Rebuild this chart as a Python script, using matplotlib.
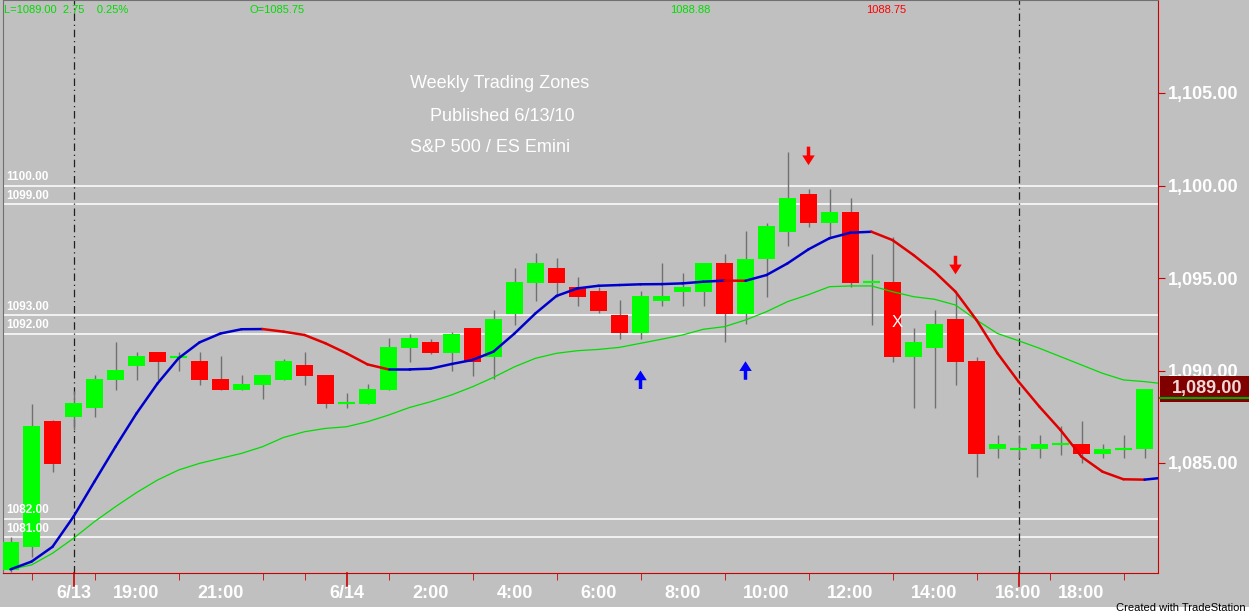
import matplotlib
matplotlib.use("Agg")
import matplotlib.pyplot as plt
import numpy as np

opens  = [1079.2,1080.47,1087.27,1087.5,1087.99,1089.49,1090.26,1091.0,1090.75,1090.51,1089.54,1088.95,1089.22,1089.49,1090.3,1089.76,1088.23,1088.19,1088.95,1091.23,
          1091.56,1090.96,1092.28,1090.75,1093.05,1094.75,1095.54,1094.51,1094.3,1093.0,1092.04,1093.77,1094.26,1094.26,1095.79,1093.05,1096.01,1097.5,1099.54,1097.99,
          1098.59,1094.77,1094.77,1090.75,1091.23,1092.78,1090.51,1085.74,1085.74,1085.74,1086.03,1086.03,1085.47,1085.74,1085.74]
closes = [1080.73,1087.0,1084.96,1088.23,1089.54,1090.03,1090.78,1090.48,1090.75,1089.49,1088.95,1089.27,1089.76,1090.51,1089.7,1088.19,1088.23,1089.0,1091.27,1091.75,
          1090.96,1091.97,1090.48,1092.78,1094.77,1095.79,1094.75,1093.99,1093.23,1092.04,1094.03,1094.03,1094.51,1095.79,1093.05,1096.03,1097.81,1099.31,1097.99,1098.59,
          1094.75,1094.77,1090.75,1091.52,1092.51,1090.48,1085.47,1086.03,1085.74,1086.03,1086.03,1085.47,1085.74,1085.74,1089.0]
highs  = [1081.0,1088.2,1087.3,1088.9,1089.76,1091.56,1091.0,1091.0,1091.0,1091.0,1090.78,1089.76,1089.76,1090.6,1091.0,1089.76,1088.77,1089.27,1091.77,1091.97,
          1091.7,1092.1,1092.3,1093.27,1095.56,1096.33,1096.06,1095.07,1094.5,1093.81,1094.3,1095.83,1095.29,1095.79,1096.3,1097.56,1097.99,1101.83,1099.79,1099.79,
          1099.31,1096.3,1097.23,1092.28,1093.27,1094.26,1090.75,1086.51,1086.5,1086.51,1087.0,1087.27,1086.03,1086.51,1089.0]
lows   = [1079.1,1079.9,1084.5,1086.8,1087.5,1088.95,1089.49,1089.49,1089.99,1089.22,1088.95,1088.95,1088.46,1089.49,1089.22,1088.0,1088.0,1088.19,1088.95,1090.48,
          1090.9,1089.99,1089.72,1089.52,1092.46,1093.77,1093.99,1093.5,1093.09,1091.7,1091.7,1093.5,1093.5,1093.5,1091.52,1092.5,1093.99,1096.73,1097.77,1097.23,
          1094.53,1092.46,1090.48,1088.0,1088.0,1089.22,1084.23,1085.25,1085.25,1085.25,1085.43,1084.98,1085.25,1085.25,1085.25]
fast_ma = [1079.25,1079.67,1080.47,1082.1,1084.0,1085.88,1087.68,1089.3,1090.66,1091.52,1092.0,1092.23,1092.24,1092.1,1091.92,1091.47,1090.93,1090.33,1090.06,1090.06,
           1090.1,1090.35,1090.57,1091.02,1092.0,1093.09,1094.03,1094.44,1094.58,1094.62,1094.66,1094.67,1094.71,1094.8,1094.86,1094.85,1095.16,1095.79,1096.55,1097.15,
           1097.45,1097.5,1097.05,1096.24,1095.34,1094.26,1092.73,1090.93,1089.4,1088.04,1086.78,1085.34,1084.53,1084.12,1084.1,1084.22]
slow_ma = [1079.25,1079.49,1080.12,1080.93,1081.83,1082.64,1083.4,1084.08,1084.62,1084.98,1085.25,1085.52,1085.88,1086.38,1086.69,1086.87,1086.96,1087.23,1087.59,1088.0,
           1088.31,1088.68,1089.12,1089.63,1090.2,1090.66,1090.93,1091.07,1091.14,1091.25,1091.47,1091.69,1091.92,1092.23,1092.37,1092.73,1093.18,1093.72,1094.1,1094.53,
           1094.57,1094.57,1094.26,1093.99,1093.85,1093.54,1092.73,1092.0,1091.61,1091.2,1090.75,1090.3,1089.85,1089.49,1089.4,1089.27]
zones = [1100.0, 1099.0, 1093.0, 1092.0, 1082.0, 1081.0]
down_arrows = [(38, 1101.1), (45, 1095.2)]   # (bar, tip price)
up_arrows = [(30, 1090.0), (35, 1090.5)]
x_mark = (42.2, 1092.6)
minor_ticks = [1,3,4,6,8,10,12,14,16,18,20,22,24,26,28,30,32,34,36,38,40,42,44,46,48,49.5,51,53]
label_pos = [3,6,10,16,20,24,28,32,36,40,44,48,51]
label_txt = ["6/13","19:00","21:00","6/14","2:00","4:00","6:00","8:00","10:00","12:00","14:00","16:00","18:00"]
right_ticks = [1105,1100,1095,1090,1085]
last_price = 1089.0

BG = "#c0c0c0"
plt.rcParams['font.family'] = ['Liberation Sans', 'DejaVu Sans']
fig = plt.figure(figsize=(12.49, 6.15), dpi=100, facecolor=BG)
W, H = 1249, 615
ax = fig.add_axes([3/W, (H-573)/H, (1158-3)/W, 573/H])
ax.set_facecolor(BG)
x0 = -0.5 + 3/21
ax.set_xlim(x0, (1158-10.5)/21)
ytop = 1100 + 185.5/18.5
ybot = 1100 - (573-185.5)/18.5
ax.set_ylim(ybot, ytop)

for z in zones:
    ax.axhline(z, color="white", lw=1.1, zorder=1)
    ax.text(0.003, z + 0.12, f"{z:.2f}", transform=ax.get_yaxis_transform(), color="white",
            fontsize=8.5, fontweight="bold", va="bottom", ha="left", zorder=10)

for xv in [3, 48]:
    ax.axvline(xv, color="#202020", lw=0.9, ls=(0, (6, 3, 1, 3)), zorder=1)

n = len(opens)
for i in range(n):
    o, c, h, l = opens[i], closes[i], highs[i], lows[i]
    ax.vlines(i, l, h, color="#707070", lw=1, zorder=2)
    col = "#00ff00" if c >= o else "#ff0000"
    if abs(c - o) < 0.05:
        ax.hlines(o, i - 0.4, i + 0.4, color=col, lw=1.5, zorder=3)
    else:
        ax.bar(i, abs(c - o), 0.82, bottom=min(o, c), color=col, zorder=3, lw=0)

xm = np.arange(len(slow_ma))
ax.plot(xm, slow_ma, color="#00dd00", lw=0.9, zorder=4)
for i in range(len(fast_ma) - 1):
    col = "#e00000" if fast_ma[i+1] < fast_ma[i] else "#0000cc"
    ax.plot([i, i+1], [fast_ma[i], fast_ma[i+1]], color=col, lw=1.8, zorder=5, solid_capstyle="round")

aprops = dict(width=2.5, headwidth=9, headlength=7, lw=0)
for bx, tip in down_arrows:
    ax.annotate("", xy=(bx, tip), xytext=(bx, tip + 1.0),
                arrowprops=dict(facecolor="#ff0000", **aprops), zorder=6)
for bx, tip in up_arrows:
    ax.annotate("", xy=(bx, tip), xytext=(bx, tip - 1.0),
                arrowprops=dict(facecolor="#0000ff", **aprops), zorder=6)
ax.text(x_mark[0], x_mark[1], "X", color="white", fontsize=12, ha="center", va="center", zorder=7)

ax.text(19, 1105.5, "Weekly Trading Zones", color="white", fontsize=13, ha="left", va="center")
ax.text(20, 1103.75, "Published 6/13/10", color="white", fontsize=13, ha="left", va="center")
ax.text(19, 1102.05, "S&P 500 / ES Emini", color="white", fontsize=13, ha="left", va="center")

for s in ["top", "left"]:
    ax.spines[s].set_color("#707070")
ax.spines["right"].set_color("#cc0000")
ax.spines["bottom"].set_color("#cc0000")
ax.set_xticks(minor_ticks, minor=True)
ax.set_xticks(label_pos, label_txt)
ax.tick_params(axis="x", which="minor", color="#cc0000", length=5, direction="out")
ax.tick_params(axis="x", which="major", color="#cc0000", length=0, pad=9, labelcolor="white", labelsize=13)
for lb in ax.get_xticklabels():
    lb.set_fontweight("bold")
ax.yaxis.tick_right()
ax.set_yticks(right_ticks, [f"{v:,.2f}" for v in right_ticks])
ax.tick_params(axis="y", color="#cc0000", length=5, direction="out", labelcolor="white", labelsize=13, pad=2)
for lb in ax.get_yticklabels():
    lb.set_fontweight("bold")
for xv in [3, 16, 48]:
    ax.plot([xv, xv], [0, -0.022], transform=ax.get_xaxis_transform(), color="#cc0000", lw=1.2, clip_on=False)

yb = (last_price - ybot) / (ytop - ybot) * 573 / H + (H-573)/H
fig.patches.append(matplotlib.patches.Rectangle((1160/W, yb - 13/H), 89/W, 26/H, transform=fig.transFigure,
                                                facecolor="#800000", edgecolor="none", zorder=5))
fig.lines.append(matplotlib.lines.Line2D([1160/W, 1], [yb - 9/H, yb - 9/H], transform=fig.transFigure, color="#00aa00", lw=1.5, zorder=6))
fig.text(1172/W, yb, f"{last_price:,.2f}", color="#f0d8d8", fontsize=13, fontweight="bold", va="center", ha="left", zorder=7)

fig.patches.append(matplotlib.patches.Rectangle((0, 0), 1, 8/H, transform=fig.transFigure, facecolor="white", edgecolor="none"))
fig.text(1246/W, 2/H, "Created with TradeStation", fontsize=8, color="black", ha="right", va="bottom")

hy = 1 - 10/H
fig.text(4/W, hy, "L=1089.00  2.75    0.25%", color="#00dd00", fontsize=8, va="center")
fig.text(250/W, hy, "O=1085.75", color="#00dd00", fontsize=8, va="center")
fig.text(670/W, hy, "1088.88", color="#00dd00", fontsize=8, va="center")
fig.text(866/W, hy, "1088.75", color="#ff0000", fontsize=8, va="center")

fig.savefig("out.png", dpi=100, facecolor=BG)
